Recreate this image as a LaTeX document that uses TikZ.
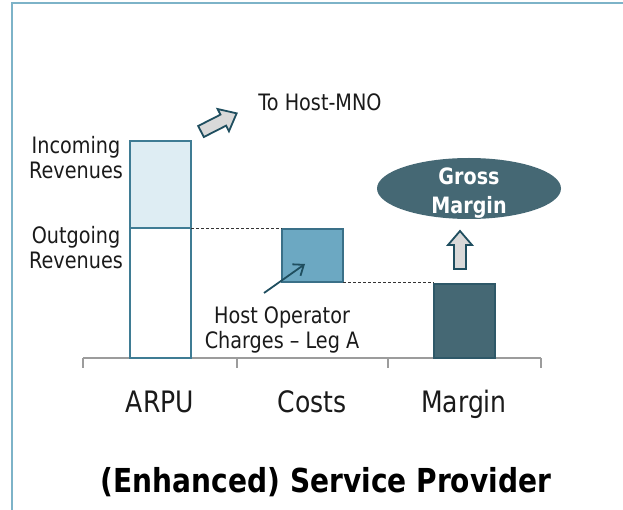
\documentclass[tikz,border=0pt]{standalone}
\usepackage{fontspec}
\setmainfont{DejaVu Sans}[FakeStretch=0.85]
\usetikzlibrary{shapes.geometric,arrows.meta}
\definecolor{frameC}{HTML}{7DB3C8}
\definecolor{incFill}{HTML}{DEEDF3}
\definecolor{barEdge}{HTML}{3F7C94}
\definecolor{costFill}{HTML}{6CA8C2}
\definecolor{costEdge}{HTML}{3A7088}
\definecolor{marFill}{HTML}{456874}
\definecolor{marEdge}{HTML}{2E5868}
\definecolor{darkTeal}{HTML}{1F4E5F}
\definecolor{blockFill}{HTML}{D9D9D9}
\definecolor{axisC}{HTML}{9C9C9C}
\definecolor{txt}{HTML}{1A1A1A}
\begin{document}
\begin{tikzpicture}[x=1pt,y=-1pt,
  lbl/.style={font=\fontsize{22.6}{25}\selectfont, inner sep=0pt, align=center, text=txt},
  axlbl/.style={font=\fontsize{29.5}{32}\selectfont, inner sep=0pt, anchor=base, text=txt},
  barbox/.style={draw, line width=1.3pt, inner sep=0pt, outer sep=0pt, minimum width=61pt},
  dashC/.style={densely dashed, line width=0.9pt, draw=black!80},
  blockarrow/.style={fill=blockFill, draw=darkTeal, line width=1.8pt, line join=miter}
]
\useasboundingbox (0,0) rectangle (623,510);
% frame
\draw[frameC, line width=2pt] (11.5,510) -- (11.5,3) -- (623,3);

% axis
\coordinate (ax0) at (83,358);
\coordinate (ax1) at (237,358);
\coordinate (ax2) at (388,358);
\coordinate (ax3) at (541,358);
\draw[axisC, line width=1.4pt] (ax0) -- (ax3);
\foreach \c in {ax0,ax1,ax2,ax3} \draw[axisC, line width=1.4pt] (\c) -- ++(0,10);

% bars
\node[barbox, draw=barEdge, fill=incFill, minimum height=87pt] (inc) at (160.5,184.5) {};
\node[barbox, draw=barEdge, fill=white, minimum height=130pt] (out) at (160.5,293) {};
\node[barbox, draw=costEdge, fill=costFill, minimum height=53pt] (cost) at (312.5,255.5) {};
\node[barbox, draw=marEdge, fill=marFill, minimum height=74pt] (mar) at (464.5,321) {};

% dashed connectors
\draw[dashC] (inc.south east) -- (inc.south east -| cost.west);
\draw[dashC] (cost.south east) -- (cost.south east -| mar.west);

% labels
\node[lbl] (incL) at (76,158) {Incoming\\Revenues};
\node[lbl] (outL) at (76,247.5) {Outgoing\\Revenues};
\node[lbl, anchor=base] (host) at (320,111) {To Host-MNO};
\node[lbl] (hoc) at (282,329.5) {Host Operator\\Charges -- Leg A};

% host charges arrow
\coordinate (hoTail) at (264,293);
\coordinate (hoTip) at (305,264);
\draw[darkTeal, line width=1.8pt, -{Straight Barb[length=9pt,width=14pt,line width=1.8pt]}] (hoTail) -- (hoTip);

% diagonal block arrow
\begin{scope}[shift={(201,131.5)}, rotate=27]
\draw[blockarrow] (0,-6.2) -- (25,-6.2) -- (25,-12.5) -- (40,0) -- (25,12.5) -- (25,6.2) -- (0,6.2) -- cycle;
\end{scope}

% gross margin ellipse
\node[ellipse, fill=marFill, minimum width=184pt, minimum height=61pt, inner sep=0pt] (gm) at (469,188.5) {};
\node[font=\bfseries\fontsize{22.5}{29}\selectfont, text=white, align=center, inner sep=0pt] (gmT) at (469,193) {Gross\\Margin};

% up block arrow
\draw[blockarrow] (454,269) -- (454,245) -- (448,245) -- (460,231) -- (472,245) -- (466,245) -- (466,269) -- cycle;

% axis labels
\node[axlbl] (arpu) at (160,412) {ARPU};
\node[axlbl] (costs) at (312,412) {Costs};
\node[axlbl] (margin) at (464,412) {Margin};

% title
\node[font=\bfseries\fontsize{33}{36}\selectfont, anchor=base, inner sep=0pt, text=black] (title) at (326,492) {(Enhanced) Service Provider};
\end{tikzpicture}
\end{document}
